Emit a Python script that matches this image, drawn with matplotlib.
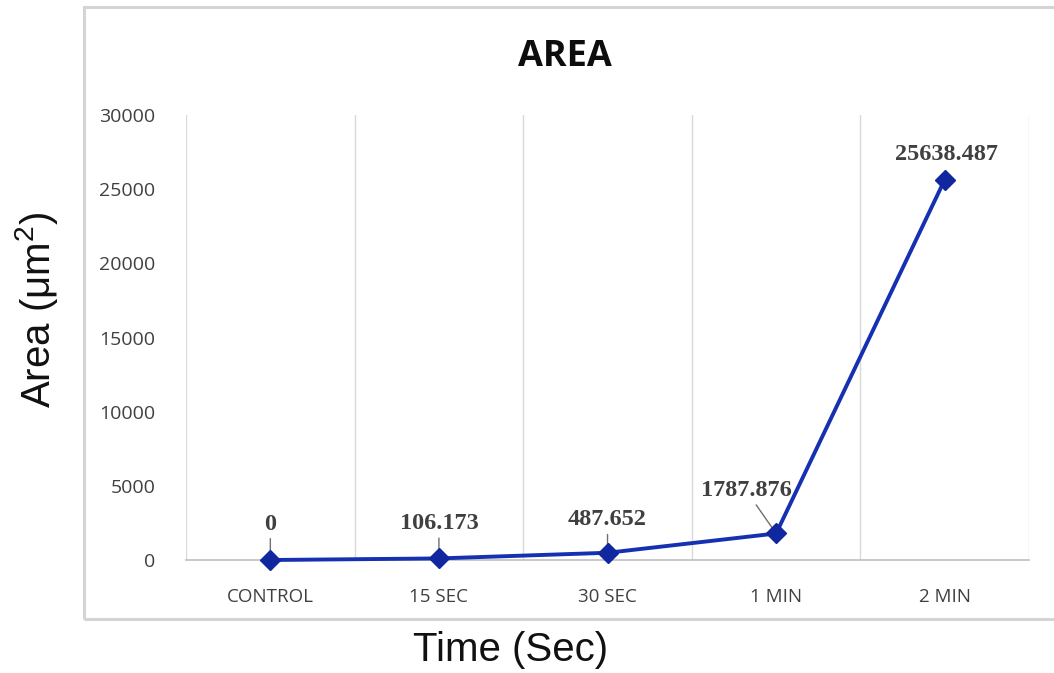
import matplotlib.pyplot as plt
from matplotlib.patches import Rectangle

categories = ['CONTROL', '15 SEC', '30 SEC', '1 MIN', '2 MIN']
area = [0, 106.173, 487.652, 1787.876, 25638.487]
labels = ['0', '106.173', '487.652', '1787.876', '25638.487']
yticks = [0, 5000, 10000, 15000, 20000, 25000, 30000]
# label offsets in pixels (dx, dy) and whether a leader line is drawn
offsets = [(0, 36), (0, 35), (0, 33), (-30, 43), (2, 25)]
leaders = [True, True, True, True, False]

fig = plt.figure(figsize=(10.54, 6.73), dpi=100)
fig.patch.set_facecolor('white')

# outer chart frame
frame = Rectangle((0.0797, 0.0802), 0.935, 0.909, transform=fig.transFigure,
                  fill=False, edgecolor='#d4d4d4', linewidth=2.2)
fig.add_artist(frame)

ax = fig.add_axes([0.1765, 0.1679, 0.7998, 0.6612])
x = list(range(len(categories)))

for b in [i - 0.5 for i in range(len(categories) + 1)]:
    ax.axvline(b, color='#d9d9d9', linewidth=1.0, zorder=0)

ax.plot(x, area, color='#1530B0', linewidth=2.8, marker='D', markersize=10,
        markerfacecolor='#1027A0', markeredgecolor='#1027A0', zorder=3,
        clip_on=False)

for xi, yi, lab, off, lead in zip(x, area, labels, offsets, leaders):
    ap = None
    if lead:
        ap = dict(arrowstyle='-', color='#6f6f6f', linewidth=1.0,
                  shrinkA=1, shrinkB=2)
    ax.annotate(lab, xy=(xi, yi), xytext=off, textcoords='offset pixels',
                ha='center', va='center', fontsize=17.5, fontweight='bold',
                family='Liberation Serif', color='#404040', arrowprops=ap,
                zorder=2)

ax.set_xlim(-0.5, len(categories) - 0.5)
ax.set_ylim(0, 30000)
ax.set_xticks(x)
ax.set_xticklabels(categories, family='Open Sans', fontsize=13.5, color='#404040')
ax.set_yticks(yticks)
ax.set_yticklabels([str(v) for v in yticks], family='Open Sans', fontsize=14,
                   color='#404040')
ax.tick_params(axis='both', length=0)
ax.tick_params(axis='x', pad=20)
ax.tick_params(axis='y', pad=22)

for s in ['top', 'right', 'left']:
    ax.spines[s].set_visible(False)
ax.spines['bottom'].set_color('#bfbfbf')
ax.spines['bottom'].set_linewidth(1.2)

fig.text(0.536, 0.915, 'AREA', ha='center', va='center', family='Open Sans',
         fontweight='bold', fontsize=26, color='#0d0d0d')

plt.rcParams['mathtext.fontset'] = 'custom'
plt.rcParams['mathtext.rm'] = 'Liberation Sans'
fig.text(0.035, 0.54, 'Area (μm$^{\\mathregular{2}}$)', rotation=90,
         ha='center', va='center', family='Liberation Sans', fontsize=29,
         color='#111111')
fig.text(0.484, 0.034, 'Time (Sec)', ha='center', va='center',
         family='Liberation Sans', fontsize=29, color='#111111')

fig.savefig('out.png', dpi=100)
